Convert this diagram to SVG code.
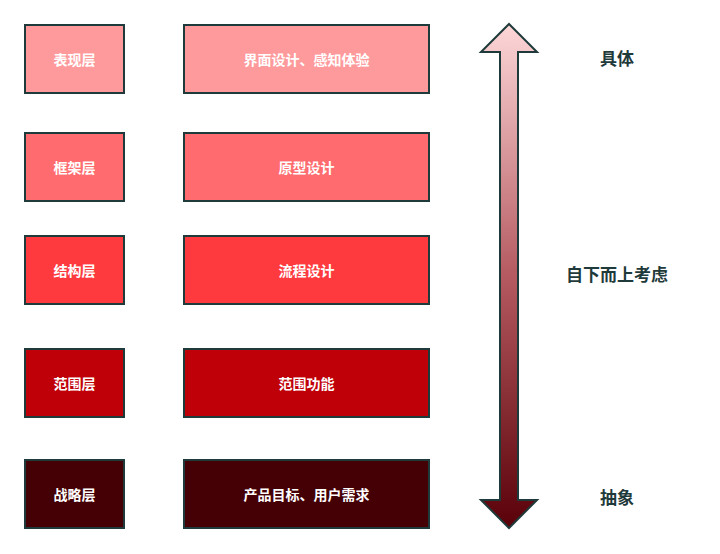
<svg xmlns="http://www.w3.org/2000/svg" width="720" height="554" viewBox="0 0 720 554">
<style>
.b{stroke:#1f3a3a;stroke-width:2}
.t{font-family:"Noto Sans CJK SC",sans-serif;font-size:14px;font-weight:bold;fill:#fff;text-anchor:middle;dominant-baseline:central}
.s{font-family:"Noto Sans CJK SC",sans-serif;font-size:17px;font-weight:bold;fill:#1f3a3a;text-anchor:middle;dominant-baseline:central}
</style>
<defs><linearGradient id="g" x1="0" y1="0" x2="0" y2="1"><stop offset="0" stop-color="#fdd7d8"/><stop offset="0.5" stop-color="#b45a60"/><stop offset="1" stop-color="#5a0008"/></linearGradient></defs>
<rect width="720" height="554" fill="#fff"/>
<g id="n1"><rect class="b" x="25" y="25" width="99" height="68" fill="#ff9a9c"/><text class="t" x="74.5" y="59">表现层</text><rect class="b" x="184" y="25" width="245" height="68" fill="#ff9a9c"/><text class="t" x="306.5" y="59">界面设计、感知体验</text></g>
<g id="n2"><rect class="b" x="25" y="133" width="99" height="68" fill="#ff6b6e"/><text class="t" x="74.5" y="167">框架层</text><rect class="b" x="184" y="133" width="245" height="68" fill="#ff6b6e"/><text class="t" x="306.5" y="167">原型设计</text></g>
<g id="n3"><rect class="b" x="25" y="236" width="99" height="68" fill="#ff3a3f"/><text class="t" x="74.5" y="270">结构层</text><rect class="b" x="184" y="236" width="245" height="68" fill="#ff3a3f"/><text class="t" x="306.5" y="270">流程设计</text></g>
<g id="n4"><rect class="b" x="25" y="349" width="99" height="68" fill="#c00008"/><text class="t" x="74.5" y="383">范围层</text><rect class="b" x="184" y="349" width="245" height="68" fill="#c00008"/><text class="t" x="306.5" y="383">范围功能</text></g>
<g id="n5"><rect class="b" x="25" y="460" width="99" height="68" fill="#450006"/><text class="t" x="74.5" y="494">战略层</text><rect class="b" x="184" y="460" width="245" height="68" fill="#450006"/><text class="t" x="306.5" y="494">产品目标、用户需求</text></g>
<g id="connectors"><path class="b" fill="url(#g)" d="M509,24 L537,52 L518,52 L518,500 L537,500 L509,528 L481,500 L500,500 L500,52 L481,52 Z"/></g>
<text class="s" x="617" y="57">具体</text>
<text class="s" x="617" y="273">自下而上考虑</text>
<text class="s" x="617" y="496">抽象</text>
</svg>
